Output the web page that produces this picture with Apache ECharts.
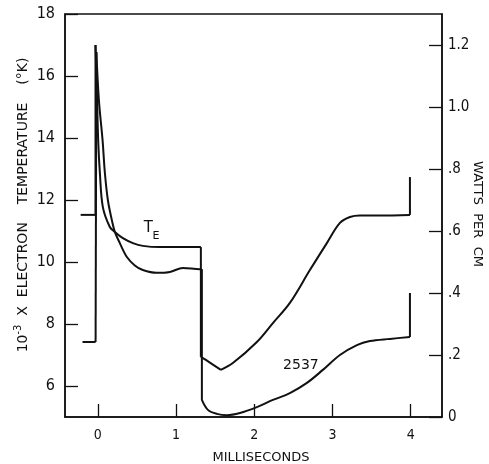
<!DOCTYPE html>
<html><head><meta charset="utf-8">
<script src="https://cdn.jsdelivr.net/npm/echarts@6/dist/echarts.min.js"></script>
<style>html,body{margin:0;padding:0;background:#fff}#c{width:489px;height:464px}</style>
</head><body><div id="c"></div>
<script>
// Axis ticks
const xTicks = [0, 1, 2, 3, 4];
const tempTicks = [6, 8, 10, 12, 14, 16, 18];
const wattTicks = [0, 0.2, 0.4, 0.6, 0.8, 1.0, 1.2];
const wattTickLabels = ['0', '.2', '.4', '.6', '.8', '1.0', '1.2'];

// Electron temperature T_E (10^-3 K, left axis) vs time (ms)
const teTime  = [-0.22, -0.03, -0.03, -0.013, 0.004, 0.026, 0.064, 0.153, 0.217, 0.32, 0.448, 0.575, 0.793, 1.0, 1.304, 1.317, 1.317, 1.381, 1.573, 1.726, 2.033, 2.238, 2.455, 2.711, 2.928, 3.095, 3.223, 3.35, 3.6, 3.99, 3.99];
const teValue = [11.52, 11.52, 17.0, 15.55, 13.94, 12.87, 11.77, 11.13, 10.97, 10.77, 10.61, 10.52, 10.48, 10.48, 10.48, 10.48, 6.94, 6.84, 6.52, 6.74, 7.42, 8.03, 8.68, 9.74, 10.61, 11.26, 11.45, 11.5, 11.5, 11.52, 12.74];
// indices of sharp corners in T_E
const teCorners = [1, 2, 15, 16, 18, 29];

// 2537 radiation (watts per cm, right axis) vs time (ms)
const uvTime  = [-0.196, -0.029, -0.019, 0.013, 0.06, 0.09, 0.128, 0.179, 0.217, 0.281, 0.371, 0.473, 0.575, 0.754, 0.921, 1.087, 1.304, 1.33, 1.33, 1.407, 1.522, 1.65, 1.816, 2.033, 2.238, 2.455, 2.673, 2.877, 3.095, 3.312, 3.478, 3.734, 3.99, 3.99];
const uvValue = [0.242, 0.242, 1.177, 1.023, 0.894, 0.787, 0.70, 0.635, 0.597, 0.561, 0.516, 0.489, 0.474, 0.465, 0.468, 0.481, 0.477, 0.477, 0.055, 0.023, 0.01, 0.006, 0.013, 0.032, 0.055, 0.077, 0.11, 0.152, 0.2, 0.232, 0.245, 0.252, 0.258, 0.40];
// indices of sharp corners in 2537
const uvCorners = [1, 2, 17, 18, 32];

const INK = '#111';
const NUMFONT = "'Liberation Sans Narrow','DejaVu Sans Condensed',sans-serif";
const TXTFONT = "'DejaVu Sans',sans-serif";

const chart = echarts.init(document.getElementById('c'), null, {renderer: 'canvas'});

function axisCommon(ticks, fontSize, margin) {
  return {
    axisLine: {show: true, onZero: false, lineStyle: {color: INK, width: 1.5}},
    axisTick: {show: true, inside: true, length: 13, customValues: ticks, lineStyle: {color: INK, width: 1.3}},
    axisLabel: {show: true, customValues: ticks, color: INK, fontSize: fontSize, fontFamily: NUMFONT, margin: margin},
    splitLine: {show: false}
  };
}

// Split a curve into pieces at its sharp corners; smooth only the curved pieces.
function curveSeries(name, yAxisIndex, time, value, corners, extra) {
  const cuts = [0].concat(corners, [time.length - 1]);
  const out = [];
  for (let k = 0; k < cuts.length - 1; k++) {
    const a = cuts[k], b = cuts[k + 1];
    const pts = [];
    for (let i = a; i <= b; i++) pts.push([time[i], value[i]]);
    const s = {
      name: name, type: 'line', yAxisIndex: yAxisIndex, showSymbol: false, symbol: 'none',
      smooth: pts.length > 2 ? 0.35 : false,
      lineStyle: {color: INK, width: 2}, data: pts, silent: true
    };
    if (k === 0 && extra) Object.assign(s, extra);
    out.push(s);
  }
  return out;
}

const teSeries = curveSeries('T_E', 0, teTime, teValue, teCorners, {
  markPoint: {
    symbol: 'circle', symbolSize: 0,
    data: [
      {coord: [0.646, 11.10], label: {show: true, formatter: 'T', color: INK, fontSize: 15, fontFamily: TXTFONT, position: 'inside'}},
      {coord: [0.742, 10.84], label: {show: true, formatter: 'E', color: INK, fontSize: 11, fontFamily: TXTFONT, position: 'inside'}}
    ]
  }
});
const uvSeries = curveSeries('2537', 1, uvTime, uvValue, uvCorners, {
  markPoint: {
    symbol: 'circle', symbolSize: 0,
    data: [
      {coord: [2.596, 0.166], label: {show: true, formatter: '2537', color: INK, fontSize: 14, fontFamily: TXTFONT, position: 'inside'}}
    ]
  }
});

const option = {
  animation: false,
  backgroundColor: '#fff',
  grid: {left: 65, right: 47, top: 14, bottom: 47, show: true, borderColor: INK, borderWidth: 1.5, backgroundColor: 'transparent'},
  xAxis: Object.assign({type: 'value', min: -0.42, max: 4.4}, axisCommon(xTicks, 14, 11)),
  yAxis: [
    Object.assign({type: 'value', position: 'left', min: 5, max: 18}, axisCommon(tempTicks, 16, 10)),
    (function () {
      const a = Object.assign({type: 'value', position: 'right', min: 0, max: 1.3}, axisCommon(wattTicks, 15, 6));
      a.axisLabel.formatter = function (v) {
        const i = wattTicks.findIndex(w => Math.abs(w - v) < 1e-6);
        return i >= 0 ? wattTickLabels[i] : '';
      };
      return a;
    })()
  ],
  series: teSeries.concat(uvSeries),
  graphic: [
    {
      type: 'text', x: 23, y: 205, rotation: Math.PI / 2,
      style: {
        text: '{a|10}{s|-3}{a|  X  ELECTRON    TEMPERATURE    (°K)}',
        align: 'center', verticalAlign: 'middle', fill: INK,
        rich: {
          a: {fontSize: 14, fontFamily: TXTFONT, fill: INK},
          s: {fontSize: 10, fontFamily: TXTFONT, fill: INK, padding: [0, 0, 9, 0]}
        }
      }
    },
    {
      type: 'text', x: 477, y: 214, rotation: -Math.PI / 2,
      style: {text: 'WATTS  PER  CM', align: 'center', verticalAlign: 'middle', fill: INK, fontSize: 13, fontFamily: TXTFONT}
    },
    {
      type: 'text', x: 261, y: 458,
      style: {text: 'MILLISECONDS', align: 'center', verticalAlign: 'middle', fill: INK, fontSize: 13, fontFamily: TXTFONT}
    }
  ]
};
chart.setOption(option);
</script>
</body></html>
